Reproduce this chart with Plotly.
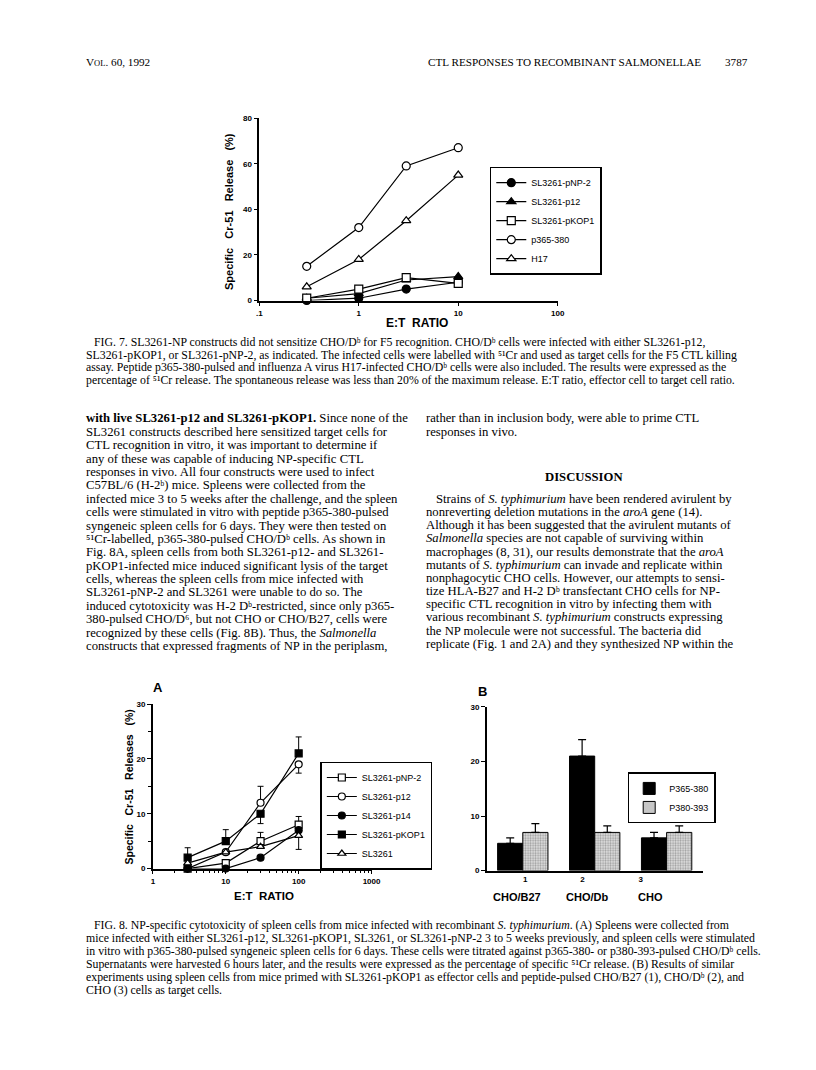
import plotly.graph_objects as go

# page is 816 x 1070; the html body adds an 8px margin, so the figure is
# placed 8px in and everything below is measured in page pixels
PAGE_OFF = 8
FW, FH = 808, 1050

# ---- Fig. 7 : E:T ratio vs specific Cr-51 release
F7_ET = [0.3, 1, 3, 10]
F7_PNP2 = [0, 1, 5, 8]
F7_P12 = [1, 3, 9, 10.5]
F7_PKOP1 = [1, 5, 10, 7.5]
F7_P365 = [15, 32, 59, 67]
F7_H17 = [6, 18, 35, 55]
F7_XTICKS = [0.1, 1, 10, 100]
F7_XLABELS = [".1", "1", "10", "100"]

# ---- Fig. 8A
F8A_ET = [3, 10, 30, 100]
F8A_PNP2 = [0, 1, 5, 8]
F8A_PNP2_UP = [0, 0, 1.6, 1.5]
F8A_PNP2_DN = [0, 0, 0, 0]
F8A_P12 = [0, 3, 12, 19]
F8A_P12_UP = [0, 0, 3, 0]
F8A_P12_DN = [0, 0, 0, 1.6]
F8A_P14 = [0, 0, 2, 7]
F8A_PKOP1 = [2, 5, 10, 21]
F8A_PKOP1_UP = [1.8, 2.1, 0, 3]
F8A_PKOP1_DN = [0, 0, 1.8, 0]
F8A_SL = [1, 3, 4, 6]
F8A_SL_UP = [0, 0, 0, 0]
F8A_SL_DN = [0, 0, 0, 2.5]
F8A_XTICKS = [1, 10, 100, 1000]

# ---- Fig. 8B
F8B_CELLS = [1, 2, 3]
F8B_NAMES = ["CHO/B27", "CHO/Db", "CHO"]
F8B_P365 = [5, 21, 6]
F8B_P365_ERR = [1, 3, 1]
F8B_P380 = [7, 7, 7]
F8B_P380_ERR = [1.6, 1.2, 1.2]


def px(x):
    return (x - PAGE_OFF) / FW


def py(y):
    return 1 - (y - PAGE_OFF) / FH


SANS = "Liberation Sans"
SERIF = "Liberation Serif"

fig = go.Figure()


def line_trace(x, y, name, symbol, filled, size, xa, ya, legend, up=None, dn=None):
    err = None
    if up is not None:
        err = dict(type="data", symmetric=False, array=up, arrayminus=dn,
                   color="black", thickness=1, width=3)
    return go.Scatter(
        x=x, y=y, name=name, mode="lines+markers",
        line=dict(color="black", width=1.2),
        marker=dict(symbol=symbol, size=size,
                    color="black" if filled else "white",
                    line=dict(color="black", width=1.2)),
        error_y=err, xaxis=xa, yaxis=ya, legend=legend, cliponaxis=False,
    )


# Fig 7 traces
fig.add_trace(line_trace(F7_ET, F7_PNP2, "SL3261-pNP-2", "circle", True, 8, "x", "y", "legend"))
fig.add_trace(line_trace(F7_ET, F7_P12, "SL3261-p12", "triangle-up", True, 8, "x", "y", "legend"))
fig.add_trace(line_trace(F7_ET, F7_PKOP1, "SL3261-pKOP1", "square", False, 8, "x", "y", "legend"))
fig.add_trace(line_trace(F7_ET, F7_P365, "p365-380", "circle", False, 8, "x", "y", "legend"))
fig.add_trace(line_trace(F7_ET, F7_H17, "H17", "triangle-up", False, 8, "x", "y", "legend"))

# Fig 8A traces
fig.add_trace(line_trace(F8A_ET, F8A_PNP2, "SL3261-pNP-2", "square", False, 7, "x2", "y2", "legend2", F8A_PNP2_UP, F8A_PNP2_DN))
fig.add_trace(line_trace(F8A_ET, F8A_P12, "SL3261-p12", "circle", False, 7, "x2", "y2", "legend2", F8A_P12_UP, F8A_P12_DN))
fig.add_trace(line_trace(F8A_ET, F8A_P14, "SL3261-p14", "circle", True, 7, "x2", "y2", "legend2"))
fig.add_trace(line_trace(F8A_ET, F8A_PKOP1, "SL3261-pKOP1", "square", True, 7, "x2", "y2", "legend2", F8A_PKOP1_UP, F8A_PKOP1_DN))
fig.add_trace(line_trace(F8A_ET, F8A_SL, "SL3261", "triangle-up", False, 7, "x2", "y2", "legend2", F8A_SL_UP, F8A_SL_DN))

# Fig 8B bars
fig.add_trace(go.Bar(
    x=F8B_CELLS, y=F8B_P365, name="P365-380", xaxis="x3", yaxis="y3", legend="legend3",
    marker=dict(color="black", line=dict(color="black", width=1)),
    error_y=dict(type="data", symmetric=False, array=F8B_P365_ERR, arrayminus=[0, 0, 0],
                 color="black", thickness=1.2, width=4),
))
fig.add_trace(go.Bar(
    x=F8B_CELLS, y=F8B_P380, name="P380-393", xaxis="x3", yaxis="y3", legend="legend3",
    marker=dict(color="#dddddd", line=dict(color="black", width=1),
                pattern=dict(shape=".", fgcolor="#555", bgcolor="#e2e2e2", size=2.5, solidity=0.45)),
    error_y=dict(type="data", symmetric=False, array=F8B_P380_ERR, arrayminus=[0, 0, 0],
                 color="black", thickness=1.2, width=4),
))

tickfont = dict(family=SANS, size=8, color="black", weight="bold")
axis_common = dict(showline=True, linecolor="black", linewidth=1.5, showgrid=False,
                   zeroline=False, ticks="outside", ticklen=4, tickwidth=1.2,
                   tickcolor="black", tickfont=tickfont)

legend_common = dict(bgcolor="white", bordercolor="black", borderwidth=1.5,
                     font=dict(family=SANS, size=9, color="black"),
                     xanchor="left", yanchor="top", tracegroupgap=0, itemwidth=30)

fig.update_layout(
    width=FW, height=FH, margin=dict(l=0, r=0, t=0, b=0),
    paper_bgcolor="white", plot_bgcolor="white",
    barmode="group", bargap=0.3, bargroupgap=0,
    xaxis=dict(domain=[px(260), px(563)], type="log", range=[-1, 2],
               tickvals=F7_XTICKS, ticktext=F7_XLABELS, anchor="y", **axis_common),
    yaxis=dict(domain=[py(299), py(115)], range=[0, 80], dtick=20, anchor="x", **axis_common),
    xaxis2=dict(domain=[px(152), px(374)], type="log", range=[0, 3],
                tickvals=F8A_XTICKS, ticktext=[str(v) for v in F8A_XTICKS], anchor="y2",
                minor=dict(ticks="outside", ticklen=2.5, dtick="D1", tickcolor="black"),
                **axis_common),
    yaxis2=dict(domain=[py(872), py(706)], range=[0, 30], dtick=10, anchor="x2",
                minor=dict(ticks="outside", ticklen=3, dtick=5, tickcolor="black"),
                **axis_common),
    xaxis3=dict(domain=[px(491), px(710)], range=[0.5, 3.5], anchor="y3",
                tickvals=[1.034, 1.83, 2.64], ticktext=[str(c) for c in F8B_CELLS],
                **{**axis_common, "ticks": ""}),
    yaxis3=dict(domain=[py(874), py(709)], range=[0, 30], dtick=10, anchor="x3", **axis_common),
    legend=dict(x=px(494), y=py(164), **legend_common),
    legend2=dict(x=px(322), y=py(764), **legend_common),
    legend3=dict(x=px(634), y=py(775), **legend_common),
)

ann = []


def text(x, y, s, size=12.7, family=SERIF, xanchor="left", bold=False, angle=0):
    ann.append(dict(x=px(x), y=py(y), xref="paper", yref="paper", text=s, showarrow=False,
                    xanchor=xanchor, yanchor="middle", textangle=angle, borderpad=0,
                    font=dict(family=family, size=size, color="black",
                              weight="bold" if bold else "normal")))


# header
text(83, 58, "V<span style='font-size:8.5px'>OL</span>. 60, 1992", size=11.2)
text(430, 58, "CTL RESPONSES TO RECOMBINANT SALMONELLAE", size=11.2)
text(757, 58, "3787", size=11.2, xanchor="right")

# chart titles / labels
text(230, 209, "Specific&nbsp;&nbsp; Cr-51&nbsp;&nbsp; Release&nbsp;&nbsp; (%)", size=11, family=SANS,
     xanchor="center", bold=True, angle=-90)
text(420, 322, "E:T&nbsp; RATIO", size=12, family=SANS, xanchor="center", bold=True)

text(128, 790, "Specific&nbsp;&nbsp; Cr-51&nbsp;&nbsp; Releases&nbsp;&nbsp; (%)", size=10.5, family=SANS,
     xanchor="center", bold=True, angle=-90)
text(265, 900, "E:T&nbsp; RATIO", size=11.5, family=SANS, xanchor="center", bold=True)
text(157, 689, "A", size=13, family=SANS, xanchor="center", bold=True)
text(487, 693, "B", size=13, family=SANS, xanchor="center", bold=True)
for xpos, name in zip([522, 593, 657], F8B_NAMES):
    text(xpos, 901, name, size=11, family=SANS, xanchor="center", bold=True)

# Fig. 7 caption
cap7 = [
    "FIG. 7. SL3261-NP constructs did not sensitize CHO/Dᵇ for F5 recognition. CHO/Dᵇ cells were infected with either SL3261-p12,",
    "SL3261-pKOP1, or SL3261-pNP-2, as indicated. The infected cells were labelled with ⁵¹Cr and used as target cells for the F5 CTL killing",
    "assay. Peptide p365-380-pulsed and influenza A virus H17-infected CHO/Dᵇ cells were also included. The results were expressed as the",
    "percentage of ⁵¹Cr release. The spontaneous release was less than 20% of the maximum release. E:T ratio, effector cell to target cell ratio.",
]
for i, s in enumerate(cap7):
    text(91 if i == 0 else 83, 341 + 12.6 * i, s, size=11.8)

left_col = [
    "<b>with live SL3261-p12 and SL3261-pKOP1.</b> Since none of the",
    "SL3261 constructs described here sensitized target cells for",
    "CTL recognition in vitro, it was important to determine if",
    "any of these was capable of inducing NP-specific CTL",
    "responses in vivo. All four constructs were used to infect",
    "C57BL/6 (H-2ᵇ) mice. Spleens were collected from the",
    "infected mice 3 to 5 weeks after the challenge, and the spleen",
    "cells were stimulated in vitro with peptide p365-380-pulsed",
    "syngeneic spleen cells for 6 days. They were then tested on",
    "⁵¹Cr-labelled, p365-380-pulsed CHO/Dᵇ cells. As shown in",
    "Fig. 8A, spleen cells from both SL3261-p12- and SL3261-",
    "pKOP1-infected mice induced significant lysis of the target",
    "cells, whereas the spleen cells from mice infected with",
    "SL3261-pNP-2 and SL3261 were unable to do so. The",
    "induced cytotoxicity was H-2 Dᵇ-restricted, since only p365-",
    "380-pulsed CHO/D⁶, but not CHO or CHO/B27, cells were",
    "recognized by these cells (Fig. 8B). Thus, the <i>Salmonella</i>",
    "constructs that expressed fragments of NP in the periplasm,",
]
for i, s in enumerate(left_col):
    text(83, 418 + 13.5 * i, s)

right_top = [
    "rather than in inclusion body, were able to prime CTL",
    "responses in vivo.",
]
for i, s in enumerate(right_top):
    text(428, 418 + 13.5 * i, s)
text(590, 477, "DISCUSSION", xanchor="center", bold=True)

right_col = [
    "Strains of <i>S. typhimurium</i> have been rendered avirulent by",
    "nonreverting deletion mutations in the <i>aroA</i> gene (14).",
    "Although it has been suggested that the avirulent mutants of",
    "<i>Salmonella</i> species are not capable of surviving within",
    "macrophages (8, 31), our results demonstrate that the <i>aroA</i>",
    "mutants of <i>S. typhimurium</i> can invade and replicate within",
    "nonphagocytic CHO cells. However, our attempts to sensi-",
    "tize HLA-B27 and H-2 Dᵇ transfectant CHO cells for NP-",
    "specific CTL recognition in vitro by infecting them with",
    "various recombinant <i>S. typhimurium</i> constructs expressing",
    "the NP molecule were not successful. The bacteria did",
    "replicate (Fig. 1 and 2A) and they synthesized NP within the",
]
for i, s in enumerate(right_col):
    text(438 if i == 0 else 428, 499 + 13.3 * i, s)

cap8 = [
    "FIG. 8. NP-specific cytotoxicity of spleen cells from mice infected with recombinant <i>S. typhimurium</i>. (A) Spleens were collected from",
    "mice infected with either SL3261-p12, SL3261-pKOP1, SL3261, or SL3261-pNP-2 3 to 5 weeks previously, and spleen cells were stimulated",
    "in vitro with p365-380-pulsed syngeneic spleen cells for 6 days. These cells were titrated against p365-380- or p380-393-pulsed CHO/Dᵇ cells.",
    "Supernatants were harvested 6 hours later, and the results were expressed as the percentage of specific ⁵¹Cr release. (B) Results of similar",
    "experiments using spleen cells from mice primed with SL3261-pKOP1 as effector cells and peptide-pulsed CHO/B27 (1), CHO/Dᵇ (2), and",
    "CHO (3) cells as target cells.",
]
for i, s in enumerate(cap8):
    text(91 if i == 0 else 83, 929 + 13.1 * i, s, size=11.8)

fig.update_layout(annotations=ann)

fig.write_html("out.html")
